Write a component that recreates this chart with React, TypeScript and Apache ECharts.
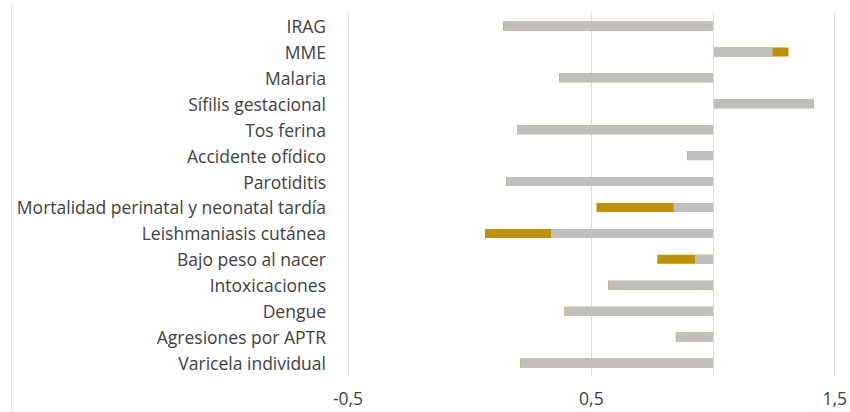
import React, { useEffect, useRef } from "react";
import * as echarts from "echarts";

const categories = [
  "IRAG",
  "MME",
  "Malaria",
  "Sífilis gestacional",
  "Tos ferina",
  "Accidente ofídico",
  "Parotiditis",
  "Mortalidad perinatal y neonatal tardía",
  "Leishmaniasis cutánea",
  "Bajo peso al nacer",
  "Intoxicaciones",
  "Dengue",
  "Agresiones por APTR",
  "Varicela individual",
];

// far end of each bar (bars are drawn from the reference value 1)
const goldValues = [0.138, 1.31, 0.368, 1.414, 0.196, 0.893, 0.15, 0.521, 0.063, 0.771, 0.569, 0.389, 0.847, 0.207];
const grayValues = [0.14, 1.245, 0.369, 1.413, 0.197, 0.894, 0.151, 0.837, 0.334, 0.926, 0.57, 0.39, 0.848, 0.208];

const reference = 1;
const xTicks = [-0.5, 0.5, 1.5];

const FONT = "Open Sans";

export default function App() {
  const ref = useRef<HTMLDivElement>(null);

  useEffect(() => {
    document.body.style.margin = "0";
    if (!ref.current) return;
    const chart = echarts.init(ref.current, undefined, { renderer: "svg" });

    const base = (vals: number[]) => vals.map((v) => Math.min(v, reference));
    const len = (vals: number[]) => vals.map((v) => Math.abs(v - reference));

    const common = {
      type: "bar" as const,
      barWidth: 9,
      barGap: "-100%",
      silent: true,
    };

    chart.setOption({
      animation: false,
      backgroundColor: "#ffffff",
      grid: { left: 348, right: 14, top: 13, bottom: 36 },
      xAxis: {
        type: "value",
        min: xTicks[0],
        max: xTicks[xTicks.length - 1],
        interval: 1,
        axisLine: { show: false },
        axisTick: { show: false },
        splitLine: { show: true, lineStyle: { color: "#d9d9d9", width: 1 } },
        axisLabel: {
          color: "#404040",
          fontFamily: FONT,
          fontSize: 17.5,
          margin: 13,
          formatter: (v: number) => String(v).replace(".", ","),
        },
      },
      yAxis: {
        type: "category",
        data: categories,
        inverse: true,
        axisLine: { show: false },
        axisTick: { show: false },
        splitLine: { show: false },
        axisLabel: {
          color: "#404040",
          fontFamily: FONT,
          fontSize: 17.5,
          margin: 22,
        },
      },
      graphic: [
        {
          type: "line",
          shape: { x1: 11.5, y1: 4, x2: 11.5, y2: 412 },
          style: { stroke: "#e3e3e3", lineWidth: 1 },
          silent: true,
        },
      ],
      series: [
        {
          ...common,
          name: "goldBase",
          stack: "gold",
          data: base(goldValues),
          itemStyle: { color: "transparent" },
        },
        {
          ...common,
          name: "gold",
          stack: "gold",
          data: len(goldValues),
          itemStyle: { color: "#BF9000" },
        },
        {
          ...common,
          name: "grayBase",
          stack: "gray",
          data: base(grayValues),
          itemStyle: { color: "transparent" },
        },
        {
          ...common,
          name: "gray",
          stack: "gray",
          data: len(grayValues),
          itemStyle: { color: "#BFBFBF" },
          markLine: {
            silent: true,
            symbol: "none",
            label: { show: false },
            lineStyle: { color: "#d9d9d9", width: 1, type: "solid" },
            data: [{ xAxis: reference }],
          },
        },
      ],
    });

    return () => chart.dispose();
  }, []);

  return <div ref={ref} style={{ width: 850, height: 412 }} />;
}
